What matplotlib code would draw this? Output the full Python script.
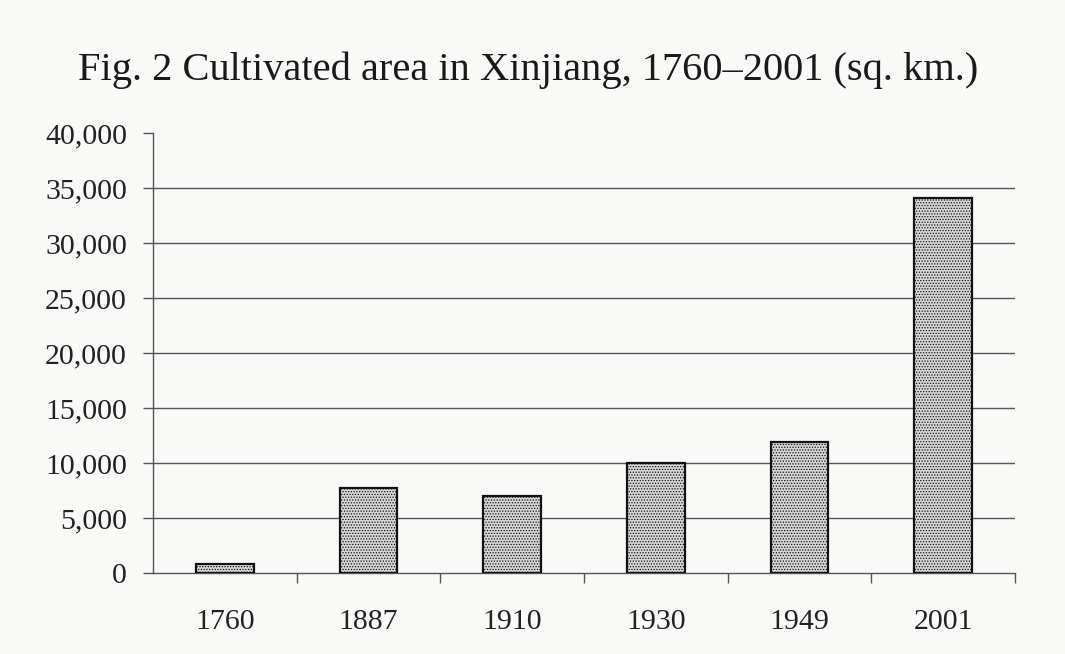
import matplotlib.pyplot as plt
import numpy as np
from matplotlib.ticker import FuncFormatter, FixedLocator

years = ["1760", "1887", "1910", "1930", "1949", "2001"]
area_sqkm = [800, 7700, 7000, 10000, 11900, 34100]
y_ticks = [0, 5000, 10000, 15000, 20000, 25000, 30000, 35000, 40000]

plt.rcParams["font.family"] = ["Liberation Serif", "DejaVu Serif"]
plt.rcParams["hatch.color"] = "#6a6a6a"
plt.rcParams["hatch.linewidth"] = 0.6

fig = plt.figure(figsize=(10.65, 6.54), dpi=100, facecolor="#f9f9f7")
ax = fig.add_axes([0.1437, 0.1239, 0.8093, 0.6727])
ax.set_facecolor("#f9f9f7")

x = np.arange(len(years))
ax.bar(x, area_sqkm, width=0.4, color="#d6d6d6", edgecolor="#111111",
       linewidth=1.6, hatch="......", zorder=3)

ax.set_xlim(-0.5, len(years) - 0.5)
ax.set_ylim(0, 40000)

# gridlines (no line at the top value)
for v in y_ticks[1:-1]:
    ax.axhline(v, color="#555555", linewidth=1.0, zorder=1)

ax.yaxis.set_major_locator(FixedLocator(y_ticks))
ax.yaxis.set_major_formatter(FuncFormatter(lambda v, p: f"{int(v):,}"))
ax.tick_params(axis="y", length=7.2, width=1, color="#555555", pad=11.5,
               labelsize=21.5, labelcolor="#222222")

ax.set_xticks(x)
ax.set_xticklabels(years)
ax.set_xticks(np.arange(0.5, len(years)), minor=True)
ax.tick_params(axis="x", which="major", length=0, pad=26,
               labelsize=21.5, labelcolor="#222222")
ax.tick_params(axis="x", which="minor", length=7.2, width=1, color="#555555")

for side in ["top", "right"]:
    ax.spines[side].set_visible(False)
for side in ["left", "bottom"]:
    ax.spines[side].set_color("#555555")
    ax.spines[side].set_linewidth(1.0)

fig.text(0.496, 0.893, "Fig. 2 Cultivated area in Xinjiang, 1760–2001 (sq. km.)",
         ha="center", va="center", fontsize=29.2, color="#1a1a1a")

fig.savefig("out.png", dpi=100, facecolor=fig.get_facecolor())
